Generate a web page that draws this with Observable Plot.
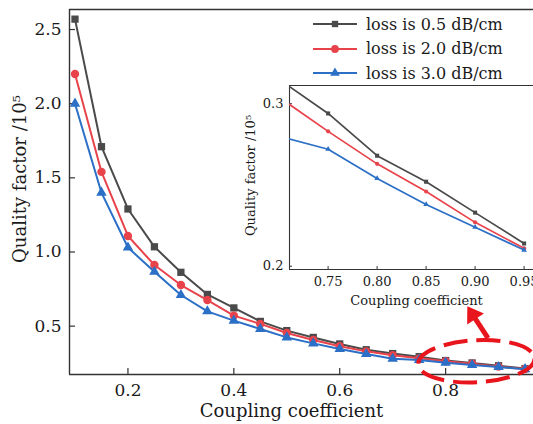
<!DOCTYPE html>
<html><head><meta charset="utf-8">
<script src="https://cdn.jsdelivr.net/npm/d3@7"></script>
<script src="https://cdn.jsdelivr.net/npm/@observablehq/plot@0.6"></script>
<style>
html,body{margin:0;padding:0;background:#fff;overflow:hidden}
#wrap{position:relative;width:533px;height:424px;font-family:"DejaVu Serif",serif;color:#1a1a1a}
#main,#inset,#legend{position:absolute}
#main{left:0;top:0}
#inset{left:240px;top:70px}
#legend{left:313px;top:12px}
.row{display:flex;align-items:center;height:24.5px;font-size:16px;white-space:nowrap}
.row svg{margin-right:9px}
</style></head><body><div id="wrap"><div id="main"></div><div id="inset"></div><div id="legend"></div></div>
<script>
// ---- data ----
const coupling = [0.10,0.15,0.20,0.25,0.30,0.35,0.40,0.45,0.50,0.55,0.60,0.65,0.70,0.75,0.80,0.85,0.90,0.95];
const loss05 = [2.57,1.71,1.29,1.035,0.863,0.714,0.623,0.532,0.470,0.424,0.380,0.341,0.315,0.294,0.268,0.252,0.233,0.214];
const loss20 = [2.20,1.54,1.108,0.912,0.777,0.676,0.571,0.515,0.454,0.407,0.364,0.330,0.304,0.283,0.263,0.246,0.227,0.211];
const loss30 = [2.00,1.40,1.03,0.867,0.710,0.600,0.537,0.481,0.424,0.384,0.346,0.312,0.280,0.272,0.254,0.238,0.224,0.210];
const seriesNames = ["loss is 0.5 dB/cm","loss is 2.0 dB/cm","loss is 3.0 dB/cm"];
const xTicksMain = [0.2,0.4,0.6,0.8];
const yTicksMain = [0.5,1.0,1.5,2.0,2.5];
const xTicksInset = [0.75,0.80,0.85,0.90,0.95];
const yTicksInset = [0.2,0.3];
const xTitle = "Coupling coefficient";
const yTitle = "Quality factor /10\u2075";
// annotation (data units of main chart)
const ellipseCenter = {x:0.859, y:0.26};
const ellipseRadius = {x:0.11, y:0.142};
const arrowFrom = {x:0.881, y:0.416};
const arrowTo = {x:0.842, y:0.63};

// ---- styles ----
const colors = ["#4a4a4a","#e8434b","#2b6fc6"];
const symbols = ["square","circle","triangle"];
const rMain = [4.1,4.2,3.9];
const rInset = [2.3,2.1,2.1];
const rLegend = [3.6,3.9,3.6];
const seriesValues = [loss05, loss20, loss30];
const rows = seriesNames.flatMap((s,i)=> coupling.map((c,j)=>({c, q: seriesValues[i][j], s, i})));

const W = 533, H = 424;
const mT = 9, mR = 0, mB = 50, mL = 69;
const pH = H - mT - mB, pW = W - mL - mR;
const xDom = [0.0896, 0.966], yDom = [0.174, 2.635];
const axisColor = "#333";

const mainMarks = [
  Plot.ruleX([xDom[0]], {stroke: axisColor, strokeWidth: 1.4}),
  Plot.ruleY([yDom[1]], {stroke: axisColor, strokeWidth: 1.4}),
  Plot.ruleY([yDom[0]], {stroke: axisColor, strokeWidth: 1.4}),
  Plot.ruleX(xTicksMain, {x: d=>d, insetTop: pH - 6, stroke: axisColor, strokeWidth: 1.2}),
  Plot.ruleY(yTicksMain, {y: d=>d, insetRight: pW - 6, stroke: axisColor, strokeWidth: 1.2}),
];
seriesNames.forEach((s,i)=>{
  const d = rows.filter(r=>r.i===i);
  mainMarks.push(Plot.line(d, {x:"c", y:"q", stroke: colors[i], strokeWidth: 2}));
  mainMarks.push(Plot.dot(d, {x:"c", y:"q", fill: colors[i], symbol: symbols[i], r: rMain[i]}));
});
mainMarks.push(Plot.text([yTitle], {text: d=>d, frameAnchor:"left", textAnchor:"middle", lineAnchor:"middle", dx:-49, dy:-13, rotate:-90, fontSize:18, fill:"#1a1a1a"}));
mainMarks.push(Plot.text([xTitle], {text: d=>d, frameAnchor:"bottom", textAnchor:"middle", lineAnchor:"middle", dx:-10, dy:37, fontSize:18, fill:"#1a1a1a"}));

const main = Plot.plot({
  width: W, height: H, marginTop: mT, marginRight: mR, marginBottom: mB, marginLeft: mL,
  style: {fontFamily: "DejaVu Serif", fontSize: "17px", color: "#1a1a1a", background: "transparent"},
  x: {domain: xDom, ticks: xTicksMain, tickFormat: d3.format(".1f"), tickSize: 0, tickPadding: 9, label: null},
  y: {domain: yDom, ticks: yTicksMain, tickFormat: d3.format(".1f"), tickSize: 0, tickPadding: 8, label: null},
  marks: mainMarks
});
document.getElementById("main").appendChild(main);

// annotation: dashed ellipse + arrow
{
  const sx = main.scale("x"), sy = main.scale("y");
  const cx = sx.apply(ellipseCenter.x), cy = sy.apply(ellipseCenter.y);
  const rx = sx.apply(ellipseCenter.x + ellipseRadius.x) - cx;
  const ry = sy.apply(ellipseCenter.y - ellipseRadius.y) - cy;
  const svg = d3.select(main);
  const g = svg.append("g");
  g.append("ellipse").attr("cx", cx).attr("cy", cy).attr("rx", rx).attr("ry", ry)
    .attr("fill", "none").attr("stroke", "#e8151c").attr("stroke-width", 4).attr("stroke-dasharray", "24 9")
    .attr("transform", `rotate(-3 ${cx} ${cy})`);
  const x0 = sx.apply(arrowFrom.x), y0 = sy.apply(arrowFrom.y);
  const x1 = sx.apply(arrowTo.x), y1 = sy.apply(arrowTo.y);
  const dx = x1 - x0, dy = y1 - y0, L = Math.hypot(dx, dy), ux = dx / L, uy = dy / L;
  const headL = 15, headW = 10;
  const bx = x1 - ux * headL, by = y1 - uy * headL;
  g.append("line").attr("x1", x0).attr("y1", y0).attr("x2", bx + ux*2).attr("y2", by + uy*2)
    .attr("stroke", "#e8151c").attr("stroke-width", 5);
  g.append("path").attr("d", `M${x1},${y1}L${bx - uy*headW},${by + ux*headW}L${bx + uy*headW},${by - ux*headW}Z`)
    .attr("fill", "#e8151c");
}

// ---- inset ----
const iW = 293, iH = 245, imT = 15, imR = 0, imB = 46, imL = 49;
const ipH = iH - imT - imB, ipW = iW - imL - imR;
const ixDom = [0.7106, 0.9596], iyDom = [0.198, 0.3112];
const insetMarks = [
  Plot.ruleX([ixDom[0]], {stroke: axisColor, strokeWidth: 1.1}),
  Plot.ruleY([iyDom[1]], {stroke: axisColor, strokeWidth: 1.1}),
  Plot.ruleY([iyDom[0]], {stroke: axisColor, strokeWidth: 1.1}),
  Plot.ruleX(xTicksInset, {x: d=>d, insetTop: ipH - 3, stroke: axisColor, strokeWidth: 1}),
  Plot.ruleY(yTicksInset, {y: d=>d, insetRight: ipW - 3, stroke: axisColor, strokeWidth: 1}),
];
seriesNames.forEach((s,i)=>{
  const d = rows.filter(r=>r.i===i);
  insetMarks.push(Plot.line(d, {x:"c", y:"q", stroke: colors[i], strokeWidth: 1.7, clip: true}));
  insetMarks.push(Plot.dot(d, {x:"c", y:"q", fill: colors[i], symbol: symbols[i], r: rInset[i], clip: true}));
});
insetMarks.push(Plot.text([yTitle], {text: d=>d, frameAnchor:"left", textAnchor:"middle", lineAnchor:"middle", dx:-39, dy:-2, rotate:-90, fontSize:13, fill:"#1a1a1a"}));
insetMarks.push(Plot.text([xTitle], {text: d=>d, frameAnchor:"bottom", textAnchor:"middle", lineAnchor:"middle", dx:5, dy:31, fontSize:13, fill:"#1a1a1a"}));

const inset = Plot.plot({
  width: iW, height: iH, marginTop: imT, marginRight: imR, marginBottom: imB, marginLeft: imL,
  style: {fontFamily: "DejaVu Serif", fontSize: "13px", color: "#1a1a1a", background: "transparent"},
  x: {domain: ixDom, ticks: xTicksInset, tickFormat: d3.format(".2f"), tickSize: 0, tickPadding: 7, label: null},
  y: {domain: iyDom, ticks: yTicksInset, tickFormat: d3.format(".1f"), tickSize: 0, tickPadding: 6, label: null},
  marks: insetMarks
});
document.getElementById("inset").appendChild(inset);

// ---- legend ----
{
  const leg = d3.select("#legend");
  seriesNames.forEach((s,i)=>{
    const row = leg.append("div").attr("class","row");
    const sv = row.append("svg").attr("width", 44).attr("height", 16);
    sv.append("line").attr("x1", 0).attr("x2", 44).attr("y1", 8).attr("y2", 8).attr("stroke", colors[i]).attr("stroke-width", 2);
    const sym = {square: d3.symbolSquare, circle: d3.symbolCircle, triangle: d3.symbolTriangle}[symbols[i]];
    sv.append("path").attr("transform", "translate(22,8)").attr("d", d3.symbol(sym, Math.PI * rLegend[i] * rLegend[i])()).attr("fill", colors[i]);
    row.append("span").text(s);
  });
}
</script>
</body></html>
